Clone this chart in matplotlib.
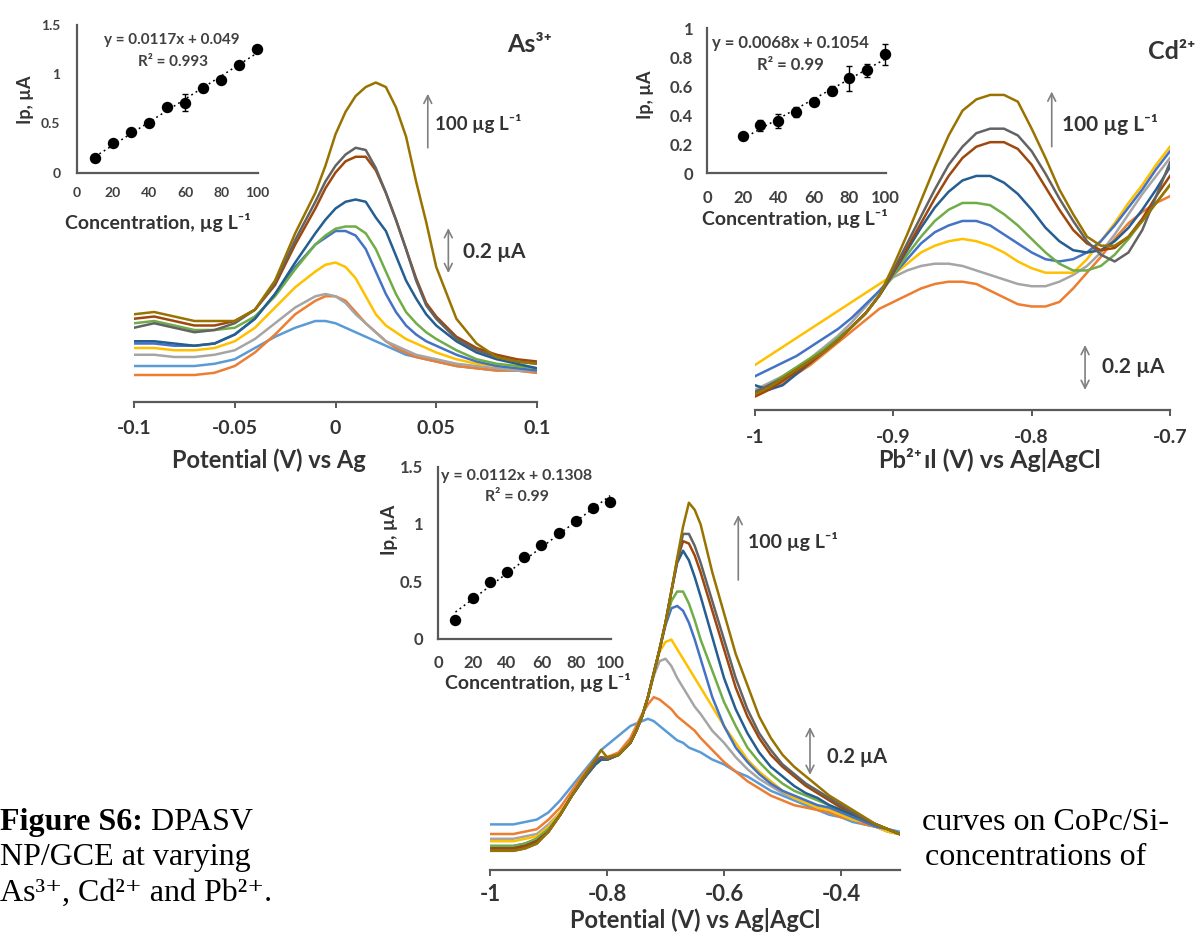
import numpy as np
import matplotlib
matplotlib.use("Agg")
import matplotlib.pyplot as plt
from matplotlib.ticker import FormatStrFormatter

W, H = 1196, 936
plt.rcParams["font.family"] = ["Lato", "DejaVu Sans"]
plt.rcParams["font.weight"] = "bold"

TXT = "#333333"
AXC = "#595959"
ARR = "#808080"

# series colours, lowest concentration first (Excel 2013 palette)
COLORS = ["#5B9BD5", "#ED7D31", "#A5A5A5", "#FFC000", "#4472C4",
          "#70AD47", "#255E91", "#9E480E", "#636363", "#997300"]

# ── As3+ voltammograms (µA, 10 ... 100 µg/L) ─────────────────────────────────
AS_V = [-0.1, -0.09, -0.08, -0.07, -0.06, -0.05, -0.04, -0.03, -0.02, -0.01,
        -0.005, 0, 0.005, 0.01, 0.015, 0.02, 0.025, 0.03, 0.035, 0.04,
        0.045, 0.05, 0.06, 0.07, 0.08, 0.09, 0.1]
AS_10 = [0.16, 0.16, 0.16, 0.16, 0.17, 0.19, 0.24, 0.29, 0.33, 0.36, 0.36, 0.35, 0.33, 0.31,
         0.29, 0.27, 0.25, 0.23, 0.21, 0.20, 0.19, 0.18, 0.16, 0.15, 0.14, 0.14, 0.13]
AS_20 = [0.12, 0.12, 0.12, 0.12, 0.13, 0.16, 0.22, 0.30, 0.39, 0.45, 0.47, 0.47, 0.45, 0.40,
         0.35, 0.31, 0.27, 0.24, 0.22, 0.20, 0.19, 0.18, 0.16, 0.15, 0.14, 0.14, 0.13]
AS_30 = [0.21, 0.21, 0.20, 0.20, 0.21, 0.23, 0.28, 0.35, 0.42, 0.47, 0.48, 0.47, 0.44, 0.39,
         0.35, 0.31, 0.27, 0.25, 0.23, 0.21, 0.20, 0.19, 0.17, 0.16, 0.15, 0.14, 0.14]
AS_40 = [0.24, 0.24, 0.23, 0.23, 0.24, 0.27, 0.33, 0.42, 0.51, 0.58, 0.61, 0.62, 0.60, 0.55,
         0.47, 0.39, 0.34, 0.31, 0.28, 0.26, 0.24, 0.22, 0.19, 0.17, 0.16, 0.15, 0.15]
AS_50 = [0.26, 0.26, 0.25, 0.25, 0.26, 0.30, 0.37, 0.48, 0.60, 0.70, 0.73, 0.76, 0.76, 0.74,
         0.68, 0.58, 0.48, 0.40, 0.34, 0.30, 0.27, 0.25, 0.21, 0.18, 0.16, 0.15, 0.14]
AS_60 = [0.35, 0.36, 0.34, 0.32, 0.32, 0.33, 0.38, 0.47, 0.59, 0.70, 0.74, 0.77, 0.78, 0.78,
         0.75, 0.68, 0.58, 0.48, 0.40, 0.35, 0.31, 0.28, 0.23, 0.19, 0.17, 0.16, 0.15]
AS_70 = [0.27, 0.27, 0.26, 0.25, 0.26, 0.30, 0.37, 0.48, 0.62, 0.75, 0.81, 0.86, 0.89, 0.90,
         0.89, 0.82, 0.76, 0.65, 0.54, 0.46, 0.39, 0.34, 0.27, 0.22, 0.19, 0.17, 0.15]
AS_80 = [0.37, 0.38, 0.36, 0.34, 0.34, 0.36, 0.41, 0.52, 0.70, 0.86, 0.95, 1.02, 1.07, 1.09,
         1.09, 1.03, 0.93, 0.81, 0.68, 0.55, 0.44, 0.38, 0.29, 0.24, 0.21, 0.19, 0.18]
AS_90 = [0.33, 0.35, 0.33, 0.31, 0.32, 0.35, 0.41, 0.53, 0.72, 0.89, 0.98, 1.05, 1.10, 1.13,
         1.12, 1.04, 0.93, 0.81, 0.68, 0.54, 0.43, 0.37, 0.28, 0.23, 0.20, 0.18, 0.17]
AS_100 = [0.39, 0.40, 0.38, 0.36, 0.36, 0.36, 0.41, 0.54, 0.75, 0.93, 1.05, 1.19, 1.29, 1.36,
          1.40, 1.42, 1.40, 1.31, 1.18, 0.98, 0.80, 0.60, 0.37, 0.26, 0.20, 0.18, 0.17]

# ── Cd2+ voltammograms (20 ... 100 µg/L) ─────────────────────────────────────
CD_V = [-1.00, -0.99, -0.98, -0.97, -0.96, -0.95, -0.94, -0.93, -0.92, -0.91, -0.90,
        -0.89, -0.88, -0.87, -0.86, -0.85, -0.84, -0.83, -0.82, -0.81, -0.80,
        -0.79, -0.78, -0.77, -0.76, -0.75, -0.74, -0.73, -0.72, -0.71, -0.70]
CD_20 = [0.06, 0.09, 0.12, 0.16, 0.20, 0.25, 0.30, 0.35, 0.40, 0.45, 0.48, 0.51, 0.54, 0.56, 0.57, 0.57,
         0.56, 0.53, 0.50, 0.47, 0.46, 0.46, 0.48, 0.54, 0.61, 0.68, 0.76, 0.83, 0.88, 0.92, 0.95]
CD_30 = [0.09, 0.12, 0.15, 0.19, 0.23, 0.28, 0.33, 0.39, 0.46, 0.53, 0.59, 0.62, 0.64, 0.65, 0.65, 0.64,
         0.62, 0.60, 0.58, 0.56, 0.55, 0.55, 0.57, 0.60, 0.64, 0.70, 0.78, 0.87, 0.96, 1.04, 1.12]
CD_40 = [0.20, 0.24, 0.28, 0.32, 0.36, 0.40, 0.44, 0.48, 0.52, 0.56, 0.60, 0.65, 0.70, 0.73, 0.75, 0.76,
         0.75, 0.73, 0.70, 0.66, 0.63, 0.61, 0.61, 0.61, 0.67, 0.75, 0.83, 0.92, 1.00, 1.09, 1.17]
CD_50 = [0.15, 0.18, 0.21, 0.24, 0.28, 0.32, 0.36, 0.41, 0.47, 0.53, 0.60, 0.67, 0.74, 0.79, 0.82, 0.84,
         0.84, 0.82, 0.78, 0.74, 0.70, 0.67, 0.66, 0.67, 0.70, 0.75, 0.82, 0.90, 0.98, 1.07, 1.15]
CD_60 = [0.08, 0.11, 0.15, 0.19, 0.23, 0.27, 0.32, 0.37, 0.43, 0.51, 0.60, 0.69, 0.77, 0.84, 0.89, 0.92,
         0.92, 0.91, 0.87, 0.82, 0.76, 0.70, 0.65, 0.62, 0.62, 0.64, 0.69, 0.76, 0.84, 0.92, 1.00]
CD_70 = [0.11, 0.09, 0.11, 0.16, 0.21, 0.26, 0.31, 0.37, 0.43, 0.51, 0.61, 0.71, 0.81, 0.90, 0.97, 1.02,
         1.04, 1.04, 1.01, 0.96, 0.89, 0.81, 0.75, 0.71, 0.70, 0.71, 0.75, 0.81, 0.89, 0.98, 1.08]
CD_80 = [0.06, 0.09, 0.13, 0.17, 0.21, 0.26, 0.31, 0.37, 0.43, 0.51, 0.61, 0.72, 0.83, 0.94, 1.04, 1.12,
         1.17, 1.19, 1.19, 1.16, 1.09, 0.99, 0.89, 0.80, 0.74, 0.71, 0.72, 0.77, 0.85, 0.95, 1.04]
CD_90 = [0.08, 0.11, 0.14, 0.18, 0.22, 0.26, 0.31, 0.37, 0.43, 0.51, 0.62, 0.74, 0.86, 0.98, 1.09, 1.17,
         1.23, 1.25, 1.25, 1.22, 1.15, 1.05, 0.94, 0.84, 0.75, 0.69, 0.66, 0.70, 0.80, 0.95, 1.10]
CD_100 = [0.07, 0.10, 0.14, 0.18, 0.22, 0.26, 0.31, 0.37, 0.43, 0.51, 0.64, 0.78, 0.93, 1.08, 1.22, 1.33,
          1.38, 1.40, 1.40, 1.37, 1.25, 1.12, 0.98, 0.87, 0.77, 0.73, 0.73, 0.77, 0.84, 0.92, 1.00]

# ── Pb2+ voltammograms (10 ... 100 µg/L) ─────────────────────────────────────
PB_V = [-1.00, -0.98, -0.96, -0.94, -0.92, -0.90, -0.88, -0.86, -0.84, -0.82, -0.81,
        -0.80, -0.78, -0.76, -0.75, -0.74, -0.73, -0.72, -0.71, -0.70, -0.69, -0.68,
        -0.67, -0.66, -0.65, -0.64, -0.62, -0.60, -0.58, -0.56, -0.54, -0.52, -0.50,
        -0.48, -0.46, -0.44, -0.42, -0.40, -0.38, -0.36, -0.34, -0.32, -0.30]
PB_10 = [0.19, 0.19, 0.19, 0.20, 0.21, 0.24, 0.29, 0.35, 0.41, 0.47, 0.50, 0.52, 0.56, 0.60, 0.61,
         0.62, 0.63, 0.62, 0.60, 0.58, 0.56, 0.54, 0.53, 0.51, 0.50, 0.49, 0.46, 0.44, 0.41, 0.39,
         0.36, 0.33, 0.31, 0.29, 0.27, 0.25, 0.23, 0.22, 0.20, 0.19, 0.18, 0.17, 0.16]
PB_20 = [0.15, 0.15, 0.15, 0.16, 0.17, 0.21, 0.26, 0.33, 0.40, 0.46, 0.47, 0.47, 0.49, 0.55, 0.60,
         0.65, 0.69, 0.72, 0.71, 0.69, 0.67, 0.64, 0.62, 0.60, 0.58, 0.55, 0.50, 0.45, 0.41, 0.37,
         0.34, 0.31, 0.29, 0.27, 0.26, 0.25, 0.24, 0.22, 0.21, 0.19, 0.18, 0.16, 0.15]
PB_30 = [0.13, 0.13, 0.13, 0.14, 0.15, 0.19, 0.24, 0.31, 0.38, 0.44, 0.46, 0.46, 0.48, 0.53, 0.58,
         0.64, 0.72, 0.81, 0.87, 0.88, 0.85, 0.80, 0.76, 0.72, 0.68, 0.65, 0.58, 0.53, 0.47, 0.42,
         0.38, 0.35, 0.32, 0.30, 0.28, 0.26, 0.25, 0.23, 0.21, 0.20, 0.18, 0.16, 0.15]
PB_40 = [0.12, 0.12, 0.12, 0.13, 0.14, 0.18, 0.24, 0.31, 0.38, 0.44, 0.46, 0.46, 0.48, 0.53, 0.58,
         0.64, 0.72, 0.82, 0.91, 0.95, 0.96, 0.92, 0.88, 0.84, 0.80, 0.76, 0.68, 0.60, 0.53, 0.46,
         0.41, 0.37, 0.33, 0.30, 0.28, 0.26, 0.25, 0.23, 0.21, 0.20, 0.18, 0.16, 0.15]
PB_50 = [0.10, 0.10, 0.10, 0.11, 0.13, 0.17, 0.23, 0.31, 0.38, 0.44, 0.46, 0.46, 0.48, 0.53, 0.58,
         0.64, 0.72, 0.82, 0.92, 1.02, 1.09, 1.10, 1.08, 1.03, 0.96, 0.88, 0.72, 0.60, 0.51, 0.45,
         0.40, 0.36, 0.33, 0.31, 0.29, 0.27, 0.26, 0.24, 0.22, 0.20, 0.18, 0.17, 0.15]
PB_60 = [0.10, 0.10, 0.10, 0.11, 0.13, 0.17, 0.23, 0.31, 0.38, 0.44, 0.46, 0.46, 0.48, 0.53, 0.58,
         0.64, 0.72, 0.82, 0.92, 1.03, 1.12, 1.16, 1.16, 1.11, 1.04, 0.96, 0.83, 0.70, 0.60, 0.51,
         0.45, 0.40, 0.36, 0.33, 0.31, 0.29, 0.27, 0.25, 0.23, 0.21, 0.19, 0.17, 0.15]
PB_70 = [0.09, 0.09, 0.09, 0.10, 0.12, 0.16, 0.23, 0.31, 0.38, 0.44, 0.46, 0.46, 0.48, 0.53, 0.58,
         0.64, 0.72, 0.82, 0.92, 1.03, 1.16, 1.28, 1.33, 1.29, 1.22, 1.14, 0.97, 0.80, 0.67, 0.57,
         0.49, 0.43, 0.39, 0.35, 0.32, 0.30, 0.27, 0.25, 0.23, 0.21, 0.19, 0.17, 0.15]
PB_80 = [0.09, 0.09, 0.09, 0.10, 0.12, 0.16, 0.23, 0.31, 0.38, 0.45, 0.47, 0.46, 0.48, 0.53, 0.58,
         0.64, 0.72, 0.82, 0.92, 1.03, 1.16, 1.29, 1.37, 1.36, 1.31, 1.24, 1.08, 0.92, 0.76, 0.64,
         0.55, 0.48, 0.43, 0.39, 0.35, 0.32, 0.29, 0.26, 0.24, 0.21, 0.19, 0.17, 0.15]
PB_90 = [0.08, 0.08, 0.08, 0.09, 0.11, 0.16, 0.23, 0.31, 0.38, 0.45, 0.47, 0.46, 0.48, 0.53, 0.58,
         0.64, 0.72, 0.82, 0.92, 1.03, 1.16, 1.29, 1.40, 1.40, 1.35, 1.28, 1.12, 0.96, 0.80, 0.67,
         0.57, 0.50, 0.44, 0.40, 0.36, 0.33, 0.30, 0.27, 0.24, 0.21, 0.19, 0.17, 0.15]
PB_100 = [0.08, 0.08, 0.08, 0.09, 0.11, 0.16, 0.23, 0.31, 0.39, 0.46, 0.50, 0.47, 0.48, 0.53, 0.58,
          0.64, 0.72, 0.82, 0.92, 1.03, 1.16, 1.30, 1.43, 1.53, 1.50, 1.44, 1.24, 1.07, 0.90, 0.77,
          0.64, 0.55, 0.48, 0.43, 0.39, 0.35, 0.31, 0.28, 0.25, 0.22, 0.19, 0.17, 0.15]

# ── calibration insets ───────────────────────────────────────────────────────
AS_CONC = [10, 20, 30, 40, 50, 60, 70, 80, 90, 100]
AS_IP = [0.15, 0.30, 0.41, 0.50, 0.67, 0.71, 0.86, 0.94, 1.09, 1.26]
AS_ERR = [0.02, 0.02, 0.02, 0.02, 0.03, 0.085, 0.045, 0.02, 0.02, 0.02]
CD_CONC = [20, 30, 40, 50, 60, 70, 80, 90, 100]
CD_IP = [0.26, 0.33, 0.36, 0.42, 0.49, 0.57, 0.655, 0.71, 0.82]
CD_ERR = [0.015, 0.035, 0.05, 0.035, 0.02, 0.03, 0.085, 0.045, 0.07]
PB_CONC = [10, 20, 30, 40, 50, 60, 70, 80, 90, 100]
PB_IP = [0.16, 0.35, 0.49, 0.58, 0.71, 0.82, 0.92, 1.03, 1.14, 1.19]
PB_ERR = [0.01, 0.01, 0.01, 0.01, 0.01, 0.01, 0.01, 0.01, 0.01, 0.01]

CONC_LBL = "Concentration, \u00b5g L\u207b\u00b9"
UG_LBL = "100 \u00b5g L\u207b\u00b9"
UA_LBL = "0.2 \u00b5A"
POT_LBL = "Potential (V) vs Ag|AgCl"
# the pasted Pb panel hides part of the two upper x labels
AS_POT_SEEN = "Potential (V) vs Ag"
CD_POT_SEEN = "\u0131l (V) vs Ag|AgCl"

fig = plt.figure(figsize=(W / 100, H / 100), dpi=100)
fig.patch.set_facecolor("white")


def rect(x0, y0, x1, y1):
    # reference pixels (origin top-left) -> figure fraction box
    return [x0 / W, 1 - y1 / H, (x1 - x0) / W, (y1 - y0) / H]


def put(x, y, s, **kw):
    kw.setdefault("color", TXT)
    return fig.text(x / W, 1 - y / H, s, **kw)


def spectra(box, volts, curves, colours, xlim, top, ticks, labels, fs, pad):
    ax = fig.add_axes(rect(*box))
    ax.patch.set_visible(False)
    for cur, col in zip(curves, colours):
        ax.plot(volts, cur, color=col, lw=1.8, solid_joinstyle="round")
    ax.set_xlim(*xlim)
    ax.set_ylim(0, top)
    for s in ("top", "right", "left"):
        ax.spines[s].set_visible(False)
    ax.spines["bottom"].set_color(AXC)
    ax.spines["bottom"].set_linewidth(1.6)
    ax.set_yticks([])
    ax.set_xticks(ticks, labels)
    ax.tick_params(axis="x", direction="out", length=4, width=1.4, color=AXC,
                   labelsize=fs, labelcolor=TXT, pad=pad)
    return ax


def markers(ax, v_up, i_up, v_bar, i_bar, v_t1, i_t1, v_t2, i_t2, fs1, fs2):
    ax.annotate("", xy=(v_up, i_up[1]), xytext=(v_up, i_up[0]),
                arrowprops=dict(arrowstyle="->", color=ARR, lw=1.2,
                                shrinkA=0, shrinkB=0, mutation_scale=14))
    ax.annotate("", xy=(v_bar, i_bar + 0.2), xytext=(v_bar, i_bar),
                arrowprops=dict(arrowstyle="<->", color=ARR, lw=1.2,
                                shrinkA=0, shrinkB=0, mutation_scale=14))
    ax.text(v_t1, i_t1, UG_LBL, fontsize=fs1, color=TXT, va="center", ha="left")
    ax.text(v_t2, i_t2, UA_LBL, fontsize=fs2, color=TXT, va="center", ha="left")


def calib(box, conc, ip, err, top, yticks, fs, xpad, ypad):
    ax = fig.add_axes(rect(*box))
    ax.patch.set_visible(False)
    k = np.polyfit(conc, ip, 1)
    ends = np.array([conc[0], conc[-1]])
    ax.plot(ends, np.polyval(k, ends), color="black", lw=1.1, ls=(0, (1.2, 2.2)))
    ax.errorbar(conc, ip, yerr=err, fmt="o", ms=7.2, color="black", ecolor="black",
                elinewidth=1, capsize=2.5, capthick=1)
    for ch in ax.get_children():
        try:
            ch.set_clip_on(False)
        except AttributeError:
            pass
    ax.set_xlim(0, 100.5)
    ax.set_ylim(0, top)
    for s in ("top", "right"):
        ax.spines[s].set_visible(False)
    for s in ("left", "bottom"):
        ax.spines[s].set_color(AXC)
        ax.spines[s].set_linewidth(1.6)
    ax.set_xticks([0, 20, 40, 60, 80, 100])
    ax.set_yticks(yticks)
    ax.yaxis.set_major_formatter(FormatStrFormatter("%g"))
    ax.tick_params(length=0, labelsize=fs, labelcolor="#404040")
    ax.tick_params(axis="x", pad=xpad)
    ax.tick_params(axis="y", pad=ypad)
    return ax


# ── As3+ panel ───────────────────────────────────────────────────────────────
ax_as = spectra((134, 40, 537, 402), AS_V,
                [AS_10, AS_20, AS_30, AS_40, AS_50, AS_60, AS_70, AS_80, AS_90, AS_100],
                COLORS, (-0.1, 0.1), 1.609, [-0.1, -0.05, 0, 0.05, 0.1],
                ["-0.1", "-0.05", "0", "0.05", "0.1"], 14, 9)
markers(ax_as, 0.0458, (1.13, 1.37), 0.056, 0.573, 0.0494, 1.239, 0.0634, 0.668, 13.5, 15)
ax_as.text(0.0965, 1.587, "As\u00b3\u207a", fontsize=18, color=TXT, ha="center", va="center")
put(172, 460, AS_POT_SEEN, fontsize=17, ha="left", va="center")

calib((77, 25, 258, 172.7), AS_CONC, AS_IP, AS_ERR, 1.5, [0, 0.5, 1, 1.5], 10, 10.5, 12)
put(172, 40, "y = 0.0117x + 0.049", fontsize=11, ha="center", va="center", color="#404040")
put(173, 62, "R\u00b2 = 0.993", fontsize=11, ha="center", va="center", color="#404040")
put(25, 100, "Ip, \u00b5A", fontsize=13, rotation=90, ha="center", va="center")
put(158, 222, CONC_LBL, fontsize=14, ha="center", va="center")

# ── Cd2+ panel ───────────────────────────────────────────────────────────────
ax_cd = spectra((755, 40, 1170, 410), CD_V,
                [CD_20, CD_30, CD_40, CD_50, CD_60, CD_70, CD_80, CD_90, CD_100],
                COLORS[1:], (-1, -0.7), 1.644, [-1, -0.9, -0.8, -0.7],
                ["-1", "-0.9", "-0.8", "-0.7"], 14, 9.5)
markers(ax_cd, -0.7855, (1.17, 1.415), -0.7614, 0.089, -0.7783, 1.267, -0.7494, 0.191, 15, 15)
ax_cd.text(-0.7160, 1.592, "Cd\u00b2\u207a", fontsize=18, color=TXT, ha="left", va="center")
put(924, 460, CD_POT_SEEN, fontsize=18, ha="left", va="center")

calib((707, 28.3, 886, 173.3), CD_CONC, CD_IP, CD_ERR, 1.0, [0, 0.2, 0.4, 0.6, 0.8, 1],
      12, 12, 10)
put(790, 43, "y = 0.0068x + 0.1054", fontsize=12, ha="center", va="center", color="#404040")
put(790, 65, "R\u00b2 = 0.99", fontsize=12, ha="center", va="center", color="#404040")
put(646, 95, "Ip, \u00b5A", fontsize=13, rotation=90, ha="center", va="center")
put(795, 218, CONC_LBL, fontsize=14, ha="center", va="center")

# ── Pb2+ panel ───────────────────────────────────────────────────────────────
ax_pb = spectra((490, 490, 899.5, 870), PB_V,
                [PB_10, PB_20, PB_30, PB_40, PB_50, PB_60, PB_70, PB_80, PB_90, PB_100],
                COLORS, (-1, -0.3), 1.583, [-1, -0.8, -0.6, -0.4],
                ["-1", "-0.8", "-0.6", "-0.4"], 16, 6)
markers(ax_pb, -0.5756, (1.208, 1.479), -0.453, 0.396, -0.5585, 1.368, -0.4245, 0.472, 14, 14.5)
put(878, 461, "Pb\u00b2\u207a", fontsize=17, ha="left", va="center")
put(695, 920, POT_LBL, fontsize=17, ha="center", va="center")

calib((438.3, 466.7, 611, 638.5), PB_CONC, PB_IP, PB_ERR, 1.5, [0, 0.5, 1, 1.5],
      12, 12, 11)
put(517, 476, "y = 0.0112x + 0.1308", fontsize=11.5, ha="center", va="center", color="#404040")
put(517, 497, "R\u00b2 = 0.99", fontsize=11.5, ha="center", va="center", color="#404040")
put(390, 530, "Ip, \u00b5A", fontsize=13.5, rotation=90, ha="center", va="center")
put(538, 683, CONC_LBL, fontsize=14, ha="center", va="center")

# ── caption ──────────────────────────────────────────────────────────────────
SERIF = ["Liberation Serif", "DejaVu Serif"]
cap = dict(family=SERIF, fontsize=23, weight="normal", color="black", va="baseline")
rend = fig.canvas.get_renderer()
t0 = put(0, 830, "Figure S6:", **{**cap, "weight": "bold"})
put(t0.get_window_extent(rend).x1, 830, " DPASV", **cap)
put(0, 865, "NP/GCE at varying", **cap)
put(0, 901, "As\u00b3\u207a, Cd\u00b2\u207a and Pb\u00b2\u207a.", **cap)
put(922, 830, "curves on CoPc/Si-", **cap)
put(925, 865, "concentrations of", **cap)

fig.savefig("out.png", dpi=100, facecolor="white")
